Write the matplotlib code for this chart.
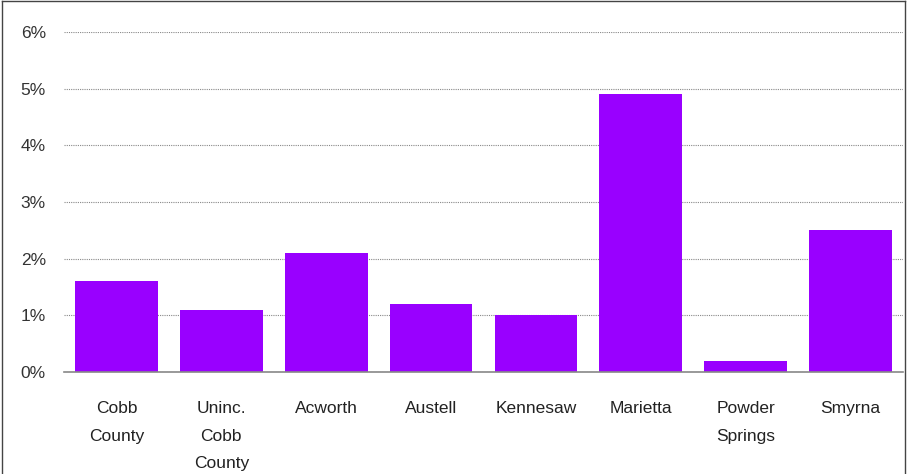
import matplotlib.pyplot as plt
from matplotlib.lines import Line2D
from matplotlib.ticker import FuncFormatter
import numpy as np

categories = ["Cobb\nCounty", "Uninc.\nCobb\nCounty", "Acworth", "Austell",
              "Kennesaw", "Marietta", "Powder\nSprings", "Smyrna"]
values = [1.6, 1.1, 2.1, 1.2, 1.0, 4.9, 0.2, 2.5]  # percent
yticks = [0, 1, 2, 3, 4, 5, 6]

plt.rcParams["font.family"] = ["Liberation Sans", "DejaVu Sans"]

fig = plt.figure(figsize=(9.09, 4.74), dpi=100)
ax = fig.add_axes([0.0704, 0.2152, 0.9230, 0.7173])

x = np.arange(len(categories))
ax.bar(x, values, width=0.79, color="#9900FF", zorder=3)

ax.set_xlim(-0.5, len(categories) - 0.5)
ax.set_ylim(0, 6)
ax.set_yticks(yticks)
ax.yaxis.set_major_formatter(FuncFormatter(lambda v, _: f"{v:.0f}%"))
ax.set_xticks(x)
ax.set_xticklabels(categories, fontsize=12.5, linespacing=2.05, color="#222222")
ax.tick_params(axis="y", length=0, pad=13, labelsize=12.5, labelcolor="#333333")
ax.tick_params(axis="x", length=0, pad=21)

ax.grid(axis="y", linestyle=(0, (1, 1)), color="#888888", linewidth=0.8, zorder=0)
for s in ["top", "right", "left"]:
    ax.spines[s].set_visible(False)
ax.spines["bottom"].set_color("#888888")
ax.spines["bottom"].set_linewidth(1.2)
ax.spines["bottom"].set_zorder(4)

# outer frame of the screenshot
fig.add_artist(Line2D([0.002, 0.002], [0, 0.997], transform=fig.transFigure, color="#444444", lw=1))
fig.add_artist(Line2D([0.002, 0.996], [0.997, 0.997], transform=fig.transFigure, color="#444444", lw=1))
fig.add_artist(Line2D([0.996, 0.996], [0, 0.997], transform=fig.transFigure, color="#444444", lw=1))

fig.savefig("out.png", dpi=100)
